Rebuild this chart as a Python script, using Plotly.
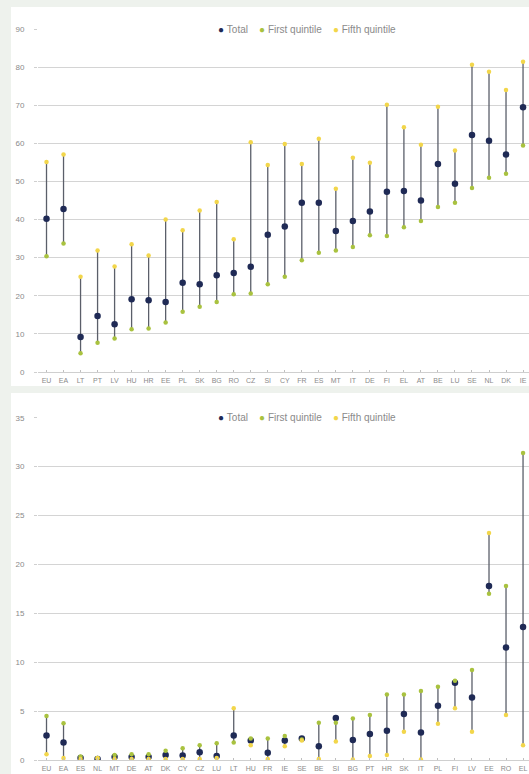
import plotly.graph_objects as go

# ---------------- data ----------------
cats_top = ["EU", "EA", "LT", "PT", "LV", "HU", "HR", "EE", "PL", "SK", "BG", "RO", "CZ", "SI",
            "CY", "FR", "ES", "MT", "IT", "DE", "FI", "EL", "AT", "BE", "LU", "SE", "NL", "DK", "IE"]
total_top = [40.2, 42.8, 9.2, 14.7, 12.5, 19.1, 18.8, 18.4, 23.4, 23.0, 25.4, 26.0, 27.6, 36.0,
             38.2, 44.4, 44.4, 37.0, 39.6, 42.1, 47.3, 47.5, 45.0, 54.6, 49.4, 62.2, 60.7, 57.1, 69.5]
q1_top = [30.4, 33.7, 4.9, 7.7, 8.8, 11.2, 11.4, 13.0, 15.8, 17.1, 18.4, 20.4, 20.6, 23.0,
          25.0, 29.3, 31.3, 31.9, 32.8, 35.9, 35.7, 38.0, 39.6, 43.3, 44.4, 48.3, 51.0, 52.0, 59.4]
q5_top = [55.1, 57.1, 25.0, 31.9, 27.7, 33.5, 30.6, 40.0, 37.2, 42.4, 44.6, 34.8, 60.3, 54.3,
          59.8, 54.6, 61.2, 48.1, 56.2, 54.9, 70.1, 64.2, 59.6, 69.6, 58.1, 80.6, 78.8, 74.0, 81.4]

cats_bot = ["EU", "EA", "ES", "NL", "MT", "DE", "AT", "DK", "CY", "CZ", "LU", "LT", "HU", "FR",
            "IE", "SE", "BE", "SI", "BG", "PT", "HR", "SK", "IT", "PL", "FI", "LV", "EE", "RO", "EL"]
total_bot = [2.5, 1.8, 0.2, 0.1, 0.3, 0.3, 0.3, 0.5, 0.45, 0.8, 0.4, 2.5, 2.0, 0.75,
             2.0, 2.2, 1.4, 4.3, 2.05, 2.65, 3.0, 4.7, 2.8, 5.55, 7.9, 6.4, 17.8, 11.5, 13.6]
q1_bot = [4.5, 3.75, 0.35, 0.2, 0.5, 0.6, 0.6, 0.95, 1.2, 1.5, 1.7, 1.8, 2.2, 2.2,
          2.45, 2.1, 3.8, 3.8, 4.25, 4.6, 6.7, 6.7, 7.05, 7.5, 8.1, 9.2, 17.0, 17.8, 31.4]
q5_bot = [0.6, 0.2, 0.1, 0.2, 0.1, 0.1, 0.1, 0.1, 0.1, 0.1, 0.2, 5.3, 1.5, 0.1,
          1.4, 2.0, 0.1, 1.9, 0.05, 0.4, 0.5, 2.9, 0.05, 3.7, 5.3, 2.9, 23.2, 4.6, 1.5]

ticks_top = [0, 10, 20, 30, 40, 50, 60, 70, 80, 90]
ticks_bot = [0, 5, 10, 15, 20, 25, 30, 35]

series_names = ["Total", "First quintile", "Fifth quintile"]

# ---------------- style ----------------
C_TOTAL = "#1f2a55"
C_Q1 = "#a9c23f"
C_Q5 = "#f2d64b"
C_RANGE = "#5b5f6a"
GRID = "#d4d4d4"
TXT = "#8a8a8a"
FONT = "Liberation Sans"

W, H = 529, 774
fig = go.Figure()


def add_panel(cats, total, q1, q5, xa, ya):
    lx, ly = [], []
    for c, a, b in zip(cats, q1, q5):
        lx += [c, c, None]
        ly += [min(a, b), max(a, b), None]
    fig.add_trace(go.Scatter(x=lx, y=ly, mode="lines", line=dict(color=C_RANGE, width=1.3),
                             showlegend=False, hoverinfo="skip", xaxis=xa, yaxis=ya))
    fig.add_trace(go.Scatter(x=cats, y=total, mode="markers", name=series_names[0],
                             marker=dict(color=C_TOTAL, size=6.5), xaxis=xa, yaxis=ya))
    fig.add_trace(go.Scatter(x=cats, y=q1, mode="markers", name=series_names[1],
                             marker=dict(color=C_Q1, size=4.5), xaxis=xa, yaxis=ya))
    fig.add_trace(go.Scatter(x=cats, y=q5, mode="markers", name=series_names[2],
                             marker=dict(color=C_Q5, size=4.5), xaxis=xa, yaxis=ya))


add_panel(cats_top, total_top, q1_top, q5_top, "x", "y")
add_panel(cats_bot, total_bot, q1_bot, q5_bot, "x2", "y2")

xl, xr = 38 / W, 1.0
y1d = [(H - 372) / H, (H - 29) / H]
y2d = [(H - 760) / H, (H - 417.7) / H]

xcommon = dict(type="category", range=[-0.5, 28.35], domain=[xl, xr], showgrid=False,
               tickfont=dict(size=7, color=TXT, family=FONT), ticks="inside", ticklen=2,
               tickcolor="#bfbfbf", showline=True, linecolor="#cfcfcf", linewidth=1,
               zeroline=False, fixedrange=True, automargin=False, ticklabelstandoff=2)
ycommon = dict(showgrid=True, gridcolor=GRID, gridwidth=1, zeroline=False, ticks="outside",
               ticklen=3, tickcolor="#cfcfcf", tickfont=dict(size=8, color=TXT, family=FONT),
               ticklabelstandoff=8, showline=False, automargin=False)

sp = "\u00a0"
legend_text = (f"<span style='color:{C_TOTAL}'>●</span>{sp}{series_names[0]}{sp*4}"
               f"<span style='color:{C_Q1}'>●</span>{sp}{series_names[1]}{sp*4}"
               f"<span style='color:{C_Q5}'>●</span>{sp}{series_names[2]}")
leg_font = dict(size=10, color=TXT, family=FONT)

fig.update_layout(
    width=W, height=H,
    margin=dict(l=0, r=0, t=0, b=0),
    paper_bgcolor="#eef2ed",
    plot_bgcolor="white",
    showlegend=False,
    xaxis=dict(xcommon, anchor="y"),
    xaxis2=dict(xcommon, anchor="y2"),
    yaxis=dict(ycommon, domain=y1d, range=[0, 90], tickvals=ticks_top, anchor="x"),
    yaxis2=dict(ycommon, domain=y2d, range=[0, 35], tickvals=ticks_bot, anchor="x2"),
    annotations=[
        dict(text=legend_text, xref="paper", yref="paper", x=307 / W, y=(H - 29) / H,
             xanchor="center", yanchor="middle", showarrow=False, bgcolor="white",
             borderpad=4, font=leg_font),
        dict(text=legend_text, xref="paper", yref="paper", x=307 / W, y=(H - 417.7) / H,
             xanchor="center", yanchor="middle", showarrow=False, bgcolor="white",
             borderpad=4, font=leg_font),
    ],
    shapes=[
        dict(type="rect", xref="paper", yref="paper", x0=11 / W, x1=1.0,
             y0=(H - 386) / H, y1=(H - 7) / H, fillcolor="white", line=dict(width=0), layer="below"),
        dict(type="rect", xref="paper", yref="paper", x0=11 / W, x1=1.0,
             y0=0, y1=(H - 393) / H, fillcolor="white", line=dict(width=0), layer="below"),
    ],
)

fig.write_html("out.html", config={"displayModeBar": False},
               post_script="document.body.style.margin='0';document.body.style.overflow='hidden';")
